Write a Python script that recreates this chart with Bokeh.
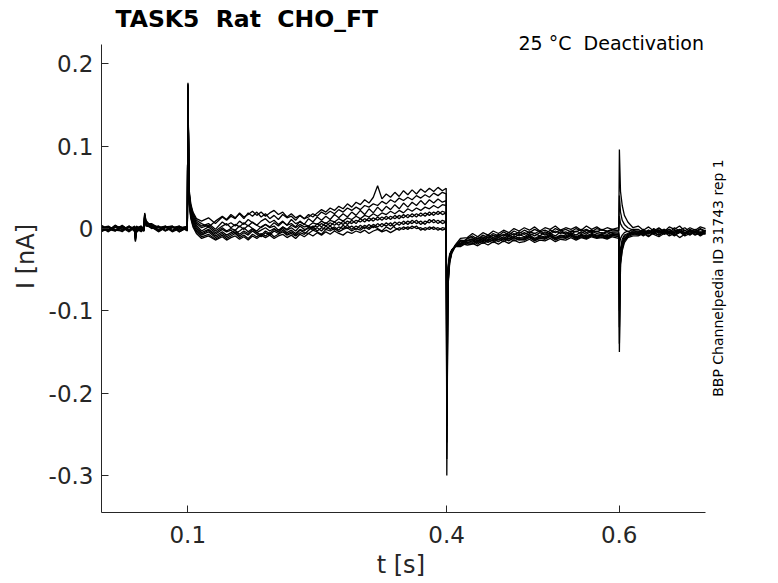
import math
from bokeh.plotting import figure
from bokeh.models import Range1d, FixedTicker, Label, ColumnDataSource
from bokeh.embed import file_html
from bokeh.resources import INLINE

# ---------------- data (current in pA, time in s) ----------------
time_s = [0.000, 0.008, 0.016, 0.024, 0.032, 0.0385, 0.0393, 0.0405, 0.046, 0.0493,
          0.0500, 0.0515, 0.058, 0.066, 0.074, 0.082, 0.090, 0.0995,
          0.1002, 0.1015, 0.1035, 0.106, 0.110, 0.116, 0.124, 0.132,
          0.140, 0.145, 0.150, 0.155, 0.160, 0.165, 0.170, 0.175, 0.180, 0.185,
          0.190, 0.195, 0.200, 0.205, 0.210, 0.215, 0.220, 0.225, 0.230, 0.235,
          0.240, 0.245, 0.250, 0.255, 0.260, 0.265, 0.270, 0.275, 0.280, 0.285,
          0.290, 0.295, 0.300, 0.305, 0.310, 0.315, 0.320, 0.325, 0.330, 0.335,
          0.340, 0.345, 0.350, 0.355, 0.360, 0.365, 0.370, 0.375, 0.380, 0.385,
          0.390, 0.395, 0.3995,
          0.4002, 0.4015, 0.4035, 0.406, 0.410, 0.416, 0.424,
          0.430, 0.436, 0.442, 0.448, 0.454, 0.460, 0.466, 0.472, 0.478, 0.484,
          0.490, 0.496, 0.502, 0.508, 0.514, 0.520, 0.526, 0.532, 0.538, 0.544,
          0.550, 0.556, 0.562, 0.568, 0.574, 0.580, 0.586, 0.592, 0.5995,
          0.6002, 0.6015, 0.6035, 0.606, 0.610, 0.616,
          0.622, 0.628, 0.634, 0.640, 0.646, 0.652, 0.658, 0.664, 0.670, 0.676,
          0.682, 0.688, 0.694, 0.700]

sweep_1 = [3, -3, 4, -2, 2, 1, -14, -3, 3, -1, 17, 8, 4, -2, 3, -3, 2, -1,
           176, 48, 30, 20, 12, 9, 13, 6,
           14, 10, 15, 12, 19, 14, 17, 21, 16, 20, 15, 19, 22, 17, 20, 14, 18, 13, 16, 12,
           17, 14, 19, 23, 20, 25, 22, 27, 24, 30, 26, 32, 29, 35, 31, 38, 52, 36, 42, 38,
           44, 39, 46, 41, 47, 42, 48, 44, 49, 45, 50, 46, 49,
           -300, -70, -40, -28, -20, -12, -11,
           -6, -10, -5, -8, -3, -6, -2, -5, 0, -3, 1, -2, 2, -3, 1, -1, 3, -2, 1, -1,
           2, -2, 3, -1, 2, -2, 1, -1, 1,
           96, 45, 28, 16, 8, 1,
           3, -2, 2, -3, 1, -4, 2, -1, 3, -3, 1, -2, 2, 0]
sweep_2 = [-3, 2, -2, 4, -3, 2, -10, 2, -4, 2, 15, 4, 5, -3, 1, 3, -4, 2,
           172, 45, 28, 18, 10, 6, 2, 9,
           15, 11, 17, 13, 18, 12, 19, 15, 20, 14, 18, 12, 16, 11, 17, 13, 15, 10, 16, 12,
           14, 18, 15, 20, 17, 21, 18, 23, 20, 25, 22, 26, 23, 28, 26, 30, 28, 33, 30, 35,
           32, 37, 34, 38, 35, 40, 37, 41, 38, 43, 40, 44, 42,
           -280, -72, -42, -30, -22, -18, -12,
           -9, -13, -8, -11, -6, -9, -4, -8, -3, -6, -2, -5, -1, -4, -2, -5, 0, -3, -1, -4,
           0, -3, -1, -4, 0, -2, -3, -1, -3,
           40, 20, 10, 5, 1, -2,
           -5, -1, -6, 0, -4, -1, -5, 1, -3, -6, -1, -4, 0, -3]
sweep_3 = [1, -4, 2, -4, 3, -3, -16, -4, 1, -3, 18, 9, 1, 3, -3, 1, 3, -2,
           174, 44, 26, 16, 8, 3, 6, -1,
           8, 4, 7, 3, 9, 5, 11, 7, 4, 9, 12, 7, 10, 5, 9, 4, 11, 6, 8, 5,
           12, 8, 14, 10, 15, 11, 17, 13, 18, 14, 20, 16, 22, 17, 24, 19, 26, 21, 27, 23,
           29, 24, 31, 26, 32, 28, 34, 29, 35, 31, 36, 32, 34,
           -260, -68, -40, -29, -21, -14, -15,
           -13, -10, -12, -8, -11, -7, -9, -5, -8, -4, -7, -4, -6, -3, -7, -2, -5, -2, -6, -3,
           -4, -1, -5, -2, -4, -1, -4, -2, -2,
           15, 6, 2, -1, -4, -1,
           -1, -5, -2, -6, 0, -4, -1, -5, -2, 1, -4, -1, -5, -2]
sweep_4 = [4, -1, -3, 2, -2, 3, -8, 1, 3, -2, 14, 6, 6, 1, 2, -4, 0, 3,
           170, 42, 24, 14, 6, 1, 4, -3,
           3, 6, 1, 5, 2, 7, 3, 8, 4, 1, 5, 2, 7, 3, 8, 4, 6, 2, 9, 5,
           3, 7, 5, 9, 6, 10, 8, 12, 9, 13, 11, 15, 12, 16, 14, 18, 15, 19, 17, 21,
           18, 22, 19, 24, 21, 25, 22, 26, 24, 28, 25, 29, 28,
           -240, -64, -38, -28, -21, -19, -12,
           -11, -15, -10, -13, -8, -11, -7, -10, -6, -9, -5, -8, -6, -9, -4, -7, -3, -6, -4, -7,
           -3, -6, -2, -5, -3, -6, -4, -5, -6,
           -20, -12, -8, -5, -3, -7,
           -6, -2, -7, -3, -5, -1, -6, -2, -4, -7, -3, -5, -1, -4]
sweep_5 = [-4, 2, -2, 1, -4, 1, -12, -2, -3, 2, 16, 3, 2, -4, 1, 2, -4, 1,
           168, 40, 22, 12, 4, -3, 2, -5,
           1, -3, 0, -2, 3, -1, 4, 0, -3, 2, 5, 1, 3, -2, 2, -1, 4, 1, 5, 2,
           3, 0, 6, 2, 7, 3, 8, 4, 9, 5, 10, 6, 12, 8, 13, 9, 14, 10, 15, 11,
           16, 12, 17, 13, 18, 14, 19, 15, 20, 16, 21, 17, 19,
           -220, -60, -36, -27, -21, -15, -17,
           -15, -12, -14, -10, -13, -9, -12, -8, -11, -7, -10, -6, -9, -5, -8, -6, -9, -4, -7, -5,
           -8, -4, -7, -3, -6, -5, -7, -4, -4,
           -50, -24, -13, -8, -6, -3,
           -3, -7, -2, -5, -8, -4, -1, -6, -3, -7, -2, -5, -8, -3]
sweep_6 = [2, -2, 4, -1, 3, -4, -15, -5, 2, -1, 19, 10, 2, 1, 3, -2, 3, -3,
           166, 38, 20, 10, 2, -5, -1, -7,
           -1, -4, -2, -6, -3, 1, -4, 0, -5, -2, 1, -3, 0, -4, 2, -2, 1, -3, 3, -1,
           0, 3, 2, 6, 3, 7, 4, 8, 5, 9, 6, 10, 8, 12, 9, 13, 10, 14, 11, 15,
           12, 16, 13, 17, 14, 18, 15, 19, 16, 20, 17, 21, 19,
           -200, -58, -35, -27, -21, -20, -14,
           -13, -17, -12, -15, -11, -14, -10, -13, -9, -12, -11, -8, -12, -9, -10, -7, -11, -8, -9, -6,
           -10, -7, -9, -6, -8, -7, -9, -6, -8,
           -80, -30, -16, -10, -7, -4,
           -7, -3, -5, -1, -6, -2, -7, -4, -1, -5, -8, -3, -6, -2]
sweep_7 = [-2, 1, -3, 3, -2, 2, -9, 3, -2, 3, 15, 5, 1, -2, 2, 3, -2, 2,
           172, 36, 18, 8, 0, -7, -2, -9,
           -4, -8, -5, -2, -7, -3, -6, -1, -5, -8, -3, -6, -1, -4, 0, -5, -2, -6, -1, -3,
           2, -2, 1, -3, 3, -1, 2, -2, 4, 0, 3, -1, 4, 0, 5, 1, 6, 2, 7, 3,
           8, 4, 9, 5, 10, 6, 9, 5, 11, 7, 10, 6, 8,
           -180, -55, -34, -26, -21, -16, -18,
           -17, -14, -16, -13, -15, -11, -14, -10, -13, -11, -12, -9, -13, -10, -11, -8, -12, -9, -10, -7,
           -11, -8, -10, -7, -9, -8, -10, -7, -7,
           -100, -34, -19, -12, -8, -5,
           -4, -8, -3, -6, -2, -7, -5, -9, -3, -6, -2, -7, -4, -6]
sweep_8 = [1, 3, -2, -3, 2, -2, -13, -3, 1, -2, 17, 7, 4, 2, -3, 1, 2, -2,
           170, 34, 16, 6, -2, -8, -4, -11,
           -6, -10, -7, -4, -9, -5, -8, -3, -7, -10, -5, -8, -3, -6, -2, -7, -4, -8, -2, -5,
           -6, -2, -4, -7, -1, -3, 0, -4, -1, 1, -3, 0, -2, 2, -1, 3, 0, -3, 2, -1,
           4, 8, 5, 9, 6, 10, 5, 9, 7, 11, 6, 10, 8,
           -160, -52, -33, -26, -21, -21, -15,
           -15, -19, -14, -17, -13, -16, -12, -15, -11, -14, -13, -10, -14, -11, -12, -9, -13, -10, -11, -8,
           -12, -9, -11, -8, -10, -9, -11, -8, -10,
           -120, -38, -22, -14, -9, -6,
           -8, -4, -9, -5, -2, -6, -3, -8, -5, -2, -7, -4, -9, -5]
sweep_9 = [-3, -1, 2, 1, -2, 1, -11, 1, -2, -3, 16, 7, 3, -1, 2, -3, 1, 2,
           175, 32, 14, 4, -4, -10, -7, -13,
           -8, -12, -9, -6, -11, -8, -12, -7, -10, -6, -9, -5, -10, -7, -4, -8, -6, -9, -5, -7,
           -2, 2, -3, 1, -1, 3, -2, 2, 0, 4, -1, 3, 0, 4, 1, 5, 2, 6, 3, 7,
           1, -2, 2, -1, 3, 0, 1, -2, 2, -1, 1, -2, 0,
           -140, -50, -32, -26, -22, -18, -20,
           -19, -16, -18, -15, -17, -13, -16, -12, -15, -13, -14, -11, -15, -12, -13, -10, -14, -11, -12, -9,
           -13, -10, -12, -9, -11, -10, -12, -9, -9,
           -140, -42, -25, -15, -10, -7,
           -5, -9, -4, -7, -10, -6, -3, -8, -4, -9, -6, -3, -7, -5]
sweep_10 = [2, -2, 1, 3, -1, 2, -7, 2, -1, 2, 13, 5, 0, 3, -2, 2, -2, 1,
            177, 30, 12, 2, -6, -12, -9, -14,
            -10, -14, -11, -9, -13, -10, -14, -9, -12, -8, -11, -8, -12, -9, -7, -11, -8, -12, -7, -10,
            -6, -9, -5, -8, -4, -7, -3, -6, -8, -4, -6, -3, -5, -2, -6, -3, -1, -4, -2, -5,
            -2, 1, -1, 2, 0, 3, -2, 1, -1, 2, -2, 1, 0,
            -120, -48, -31, -26, -22, -22, -17,
            -18, -21, -17, -20, -16, -19, -15, -18, -14, -17, -16, -13, -17, -14, -15, -12, -16, -13, -14, -11,
            -14, -11, -13, -10, -12, -11, -13, -10, -12,
            -150, -44, -27, -17, -11, -9,
            -9, -6, -10, -5, -8, -4, -9, -6, -11, -7, -4, -8, -5, -7]

sweeps_pA = [sweep_1, sweep_2, sweep_3, sweep_4, sweep_5,
             sweep_6, sweep_7, sweep_8, sweep_9, sweep_10]
for s in sweeps_pA:
    assert len(s) == len(time_s), (len(s), len(time_s))

x_ticks = [0.1, 0.4, 0.6]
x_tick_labels = ["0.1", "0.4", "0.6"]
y_ticks = [-0.3, -0.2, -0.1, 0.0, 0.1, 0.2]
y_tick_labels = ["-0.3", "-0.2", "-0.1", "0", "0.1", "0.2"]
x_limits = (0.0, 0.7)
y_limits = (-0.345, 0.2236)

title_text = "TASK5 \u00a0Rat \u00a0CHO_FT"
condition_text = "25 °C \u00a0Deactivation"
source_text = "BBP Channelpedia ID 31743 rep 1"
x_label = "t [s]"
y_label = "I [nA]"

# ---------------- figure ----------------
FONT = "DejaVu Sans"
AX = "#262626"
W, H = 776, 582
LEFT, BOTTOM = 101, 70          # frame left edge / space below frame
DATA_RIGHT, DATA_TOP = 705, 44  # where the axes end (page px)

px_x = (DATA_RIGHT - LEFT) / (x_limits[1] - x_limits[0])
px_y = ((H - BOTTOM) - DATA_TOP) / (y_limits[1] - y_limits[0])
x_end = x_limits[1] + (W - DATA_RIGHT) / px_x
y_end = y_limits[1] + DATA_TOP / px_y

p = figure(width=W, height=H, x_range=Range1d(x_limits[0], x_end), y_range=Range1d(y_limits[0], y_end),
           output_backend="svg", toolbar_location=None, title=None,
           min_border_left=LEFT, min_border_right=0, min_border_top=0, min_border_bottom=BOTTOM,
           background_fill_color="white", border_fill_color="white")
p.outline_line_color = None
p.grid.visible = False

src = ColumnDataSource(dict(
    xs=[time_s for _ in sweeps_pA],
    ys=[[v / 1000.0 for v in s] for s in sweeps_pA],
))
p.multi_line(xs="xs", ys="ys", source=src, line_color="black", line_width=1.3)

# the x-axis label is centred on the whole (wider) frame; pad it so it sits under the axis centre
x_label_padded = x_label + "\u00a0" * 10

for ax, ticks, labels, lims, standoff, lab, lab_standoff in (
        (p.xaxis[0], x_ticks, x_tick_labels, x_limits, 13, x_label_padded, 5),
        (p.yaxis[0], y_ticks, y_tick_labels, y_limits, 8, y_label, 6)):
    ax.bounds = lims
    ax.ticker = FixedTicker(ticks=ticks)
    ax.major_label_overrides = {t: l for t, l in zip(ticks, labels)}
    ax.major_tick_in = 7
    ax.major_tick_out = 0
    ax.minor_tick_in = 0
    ax.minor_tick_out = 0
    ax.axis_line_color = AX
    ax.major_tick_line_color = AX
    ax.major_label_text_font = FONT
    ax.major_label_text_font_size = "23px"
    ax.major_label_text_color = AX
    ax.major_label_standoff = standoff
    ax.axis_label = lab
    ax.axis_label_text_font = FONT
    ax.axis_label_text_font_size = "24px"
    ax.axis_label_text_font_style = "normal"
    ax.axis_label_text_color = AX
    ax.axis_label_standoff = lab_standoff

def add_label(text, x, y, size, angle=0.0, align="left", bold=False, color="black"):
    p.add_layout(Label(x=x, y=y, x_units="screen", y_units="screen", text=text,
                       angle=angle, text_align=align, text_baseline="alphabetic",
                       text_font=FONT, text_font_size=size,
                       text_font_style="bold" if bold else "normal",
                       text_color=color))

add_label(title_text, 14, 494, "23.5px", bold=True)
add_label(condition_text, 602.5, 470, "19px", align="right")
add_label(source_text, 616, 234.5, "14px", angle=math.pi / 2, align="center")

open("out.html", "w").write(file_html(p, INLINE))
